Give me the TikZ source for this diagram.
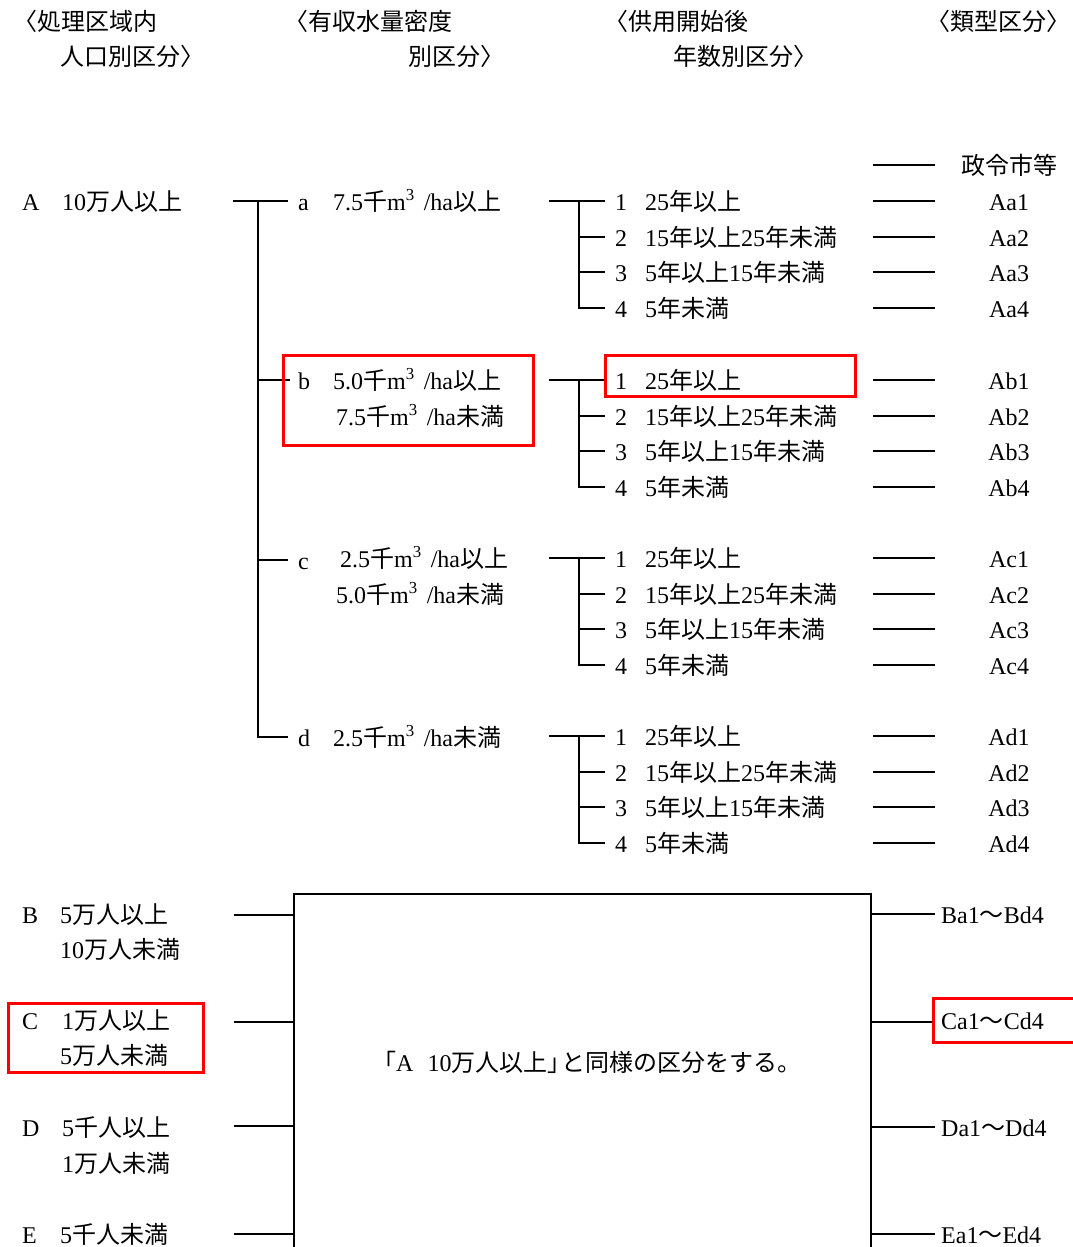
\documentclass[tikz,border=0pt]{standalone}
\usepackage{fontspec}
\setmainfont{Liberation Serif}
\newfontfamily\jpfont{Noto Sans CJK JP}
\newcommand{\jpt}[1]{{\jpfont #1}}
\newcommand{\mcube}{m\textsuperscript{3}\hspace{9pt}/ha}
\tikzset{
  txt/.style={anchor=west, inner sep=0pt, font=\fontsize{24}{28}\selectfont, text height=21pt, text depth=3pt},
  typ/.style={txt, anchor=center},
  ln/.style={line width=2pt, black},
  redbox/.style={line width=3pt, draw=red}
}
\begin{document}
\begin{tikzpicture}[x=1pt,y=-1pt]
\useasboundingbox (0,0) rectangle (1072,1247);
% headers
\node[txt] (h1a) at (13,22) {\jpt{〈処理区域内}};
\node[txt] (h1b) at (60,57) {\jpt{人口別区分〉}};
\node[txt] (h2a) at (284,22) {\jpt{〈有収水量密度}};
\node[txt] (h2b) at (408,57) {\jpt{別区分〉}};
\node[txt] (h3a) at (604,22) {\jpt{〈供用開始後}};
\node[txt] (h3b) at (673,57) {\jpt{年数別区分〉}};
\node[txt] (h4) at (926,22) {\jpt{〈類型区分〉}};
% A row
\node[txt] (A) at (22,201) {A};
\node[txt] (Atx) at (62,201) {10\jpt{万人以上}};
\coordinate (Aend) at (233,201);
\coordinate (Aj) at (258,201);
% second level
\node[txt] (a) at (298,201) {a};
\node[txt] (atx) at (333,201) {7.5\jpt{千}\mcube\jpt{以上}};
\node[txt] (b) at (298,380) {b};
\node[txt] (btx1) at (333,380) {5.0\jpt{千}\mcube\jpt{以上}};
\node[txt] (btx2) at (336,416) {7.5\jpt{千}\mcube\jpt{未満}};
\node[txt] (c) at (298,560) {c};
\node[txt] (ctx1) at (340,558) {2.5\jpt{千}\mcube\jpt{以上}};
\node[txt] (ctx2) at (336,594) {5.0\jpt{千}\mcube\jpt{未満}};
\node[txt] (d) at (298,737) {d};
\node[txt] (dtx) at (333,737) {2.5\jpt{千}\mcube\jpt{未満}};
\draw[ln] (Aend) -- ([xshift=-10pt]a.west);
\draw[ln] (Aj) -- (258,737) -- ([xshift=-10pt]d.west);
\draw[ln] (258,380) -- ([xshift=-8pt]b.west);
\draw[ln] (258,560) -- ([xshift=-10pt]c.west);
% top special row
\node[typ] (seirei) at (1009,165) {\jpt{政令市等}};
\coordinate (sl) at (873,165); \coordinate (sr) at (935,165);
\draw[ln] (sl) -- (sr);
% year groups
\foreach \g/\y in {a/201,b/380,c/558,d/736}{
  \coordinate (gs\g) at (549,\y);
  \coordinate (gv\g) at (579,\y);
  \coordinate (gb\g) at (579,\y+107);
  \foreach \k/\o/\t in {1/0/{25\jpt{年以上}}, 2/36/{15\jpt{年以上}25\jpt{年未満}}, 3/71/{5\jpt{年以上}15\jpt{年未満}}, 4/107/{5\jpt{年未満}}}{
    \pgfmathtruncatemacro\yy{\y+\o}
    \node[txt] (n\g\k) at (615,\yy) {\k};
    \node[txt] (t\g\k) at (645,\yy) {\t};
    \node[typ] (T\g\k) at (1009,\yy) {A\g\k};
    \coordinate (dl\g\k) at (873,\yy);
    \coordinate (dr\g\k) at (935,\yy);
    \draw[ln] (dl\g\k) -- (dr\g\k);
  }
  \draw[ln] (gs\g) -- ([xshift=-10pt]n\g1.west);
  \draw[ln] (gv\g) -- (gb\g) -- ([xshift=-10pt]n\g4.west);
  \draw[ln] (579,\y+36) -- ([xshift=-10pt]n\g2.west);
  \draw[ln] (579,\y+71) -- ([xshift=-10pt]n\g3.west);
}
% bottom part
\draw[ln] (294,1249) -- (294,894) -- (871,894) -- (871,1249);
\node[txt] (same) at (372,1062) {\jpt{「}A\hspace{14pt}10\jpt{万人以上」}\kern-10pt\jpt{と同様の区分をする。}};
\node[txt] (B) at (22,914) {B};
\node[txt] (Btx1) at (60,914) {5\jpt{万人以上}};
\node[txt] (Btx2) at (60,949) {10\jpt{万人未満}};
\node[txt] (C) at (22,1020) {C};
\node[txt] (Ctx1) at (62,1020) {1\jpt{万人以上}};
\node[txt] (Ctx2) at (60,1055) {5\jpt{万人未満}};
\node[txt] (D) at (22,1127) {D};
\node[txt] (Dtx1) at (62,1127) {5\jpt{千人以上}};
\node[txt] (Dtx2) at (62,1163) {1\jpt{万人未満}};
\node[txt] (E) at (22,1234) {E};
\node[txt] (Etx) at (60,1234) {5\jpt{千人未満}};
\node[txt] (Br) at (941,914) {Ba1\jpt{～}Bd4};
\node[txt] (Cr) at (941,1020) {Ca1\jpt{～}Cd4};
\node[txt] (Dr) at (941,1127) {Da1\jpt{～}Dd4};
\node[txt] (Er) at (941,1234) {Ea1\jpt{～}Ed4};
\foreach \n/\y in {B/915,C/1022,D/1126,E/1234}{
  \draw[ln] (234,\y) -- (294,\y);
}
\foreach \n/\y in {B/914,C/1022,D/1127,E/1234}{
  \draw[ln] (871,\y) -- ([xshift=-6pt]\n r.west |- 0,\y);
}
% red highlight boxes
\draw[redbox] (283,355) rectangle (533,445);
\draw[redbox] (605,355) rectangle (855,396);
\draw[redbox] (8,1003) rectangle (203,1072);
\draw[redbox] (933,998) rectangle (1076,1042);
\end{tikzpicture}
\end{document}
